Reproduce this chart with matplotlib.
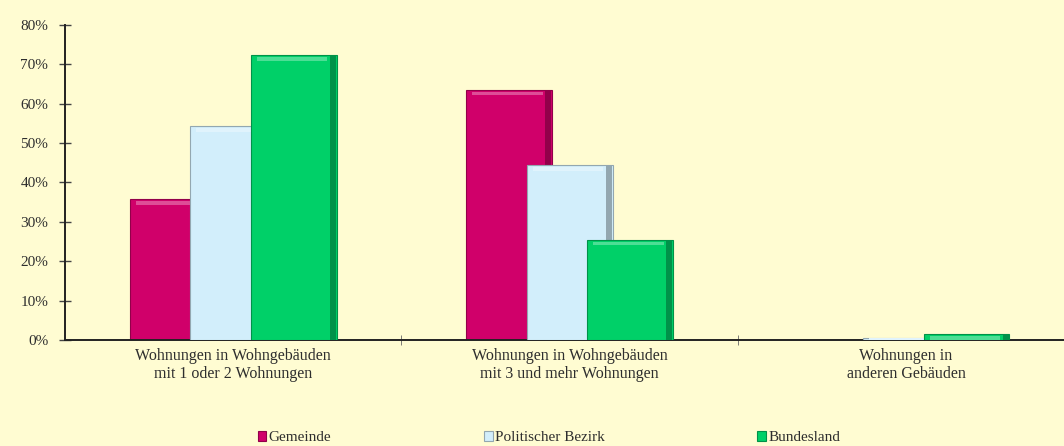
import numpy as np
import matplotlib.pyplot as plt
import matplotlib.colors as mcolors
from matplotlib.ticker import FuncFormatter

# Daten
kategorien = ["Wohnungen in Wohngebäuden\nmit 1 oder 2 Wohnungen",
              "Wohnungen in Wohngebäuden\nmit 3 und mehr Wohnungen",
              "Wohnungen in\nanderen Gebäuden"]
serien = ["Gemeinde", "Politischer Bezirk", "Bundesland"]
gemeinde = [35.8, 63.5, 0.0]
bezirk = [54.3, 44.4, 0.5]
bundesland = [72.3, 25.4, 1.5]

farben = ["#D0006A", "#D2EEFB", "#00D068"]
hintergrund = "#FFFCD2"
textfarbe = "#2E2E2E"

plt.rcParams['font.family'] = ['Liberation Serif', 'DejaVu Serif']

fig = plt.figure(figsize=(10.64, 4.46), dpi=100)
fig.patch.set_facecolor(hintergrund)
ax = fig.add_axes([0.0611, 0.2377, 0.9485, 0.7063])
ax.set_facecolor(hintergrund)

x = np.arange(len(kategorien))
breite = 0.255
abstand = 0.18

for i, (werte, name) in enumerate(zip([gemeinde, bezirk, bundesland], serien)):
    pos = x + (i - 1) * abstand
    farbe = farben[i]
    dunkel = tuple(c * 0.7 for c in mcolors.to_rgb(farbe))
    hell = tuple(c + (1 - c) * 0.3 for c in mcolors.to_rgb(farbe))
    ax.bar(pos, werte, width=breite, color=farbe, edgecolor=dunkel,
           linewidth=0.8, label=name, zorder=2 + i)
    # angedeuteter 3D-Rand: heller oben, dunkler rechts
    w = np.array(werte)
    ax.bar(pos - breite * 0.02, np.minimum(w, 0.9), bottom=np.maximum(w - 1.4, 0),
           width=breite * 0.82, color=hell, linewidth=0, zorder=2 + i)
    ax.bar(pos + breite * 0.455, w, width=breite * 0.07, color=dunkel,
           linewidth=0, zorder=2 + i)

ax.set_xlim(-0.5, 2.5)
ax.set_ylim(0, 80)
ax.set_yticks(np.arange(0, 81, 10))
ax.yaxis.set_major_formatter(FuncFormatter(lambda v, p: f"{v:.0f}%"))
ax.tick_params(axis='y', labelsize=11, length=8, width=1, direction='inout',
               pad=8, labelcolor=textfarbe, color='#444444')

ax.set_xticks(x)
ax.set_xticklabels(kategorien, fontsize=11.5, linespacing=1.15)
ax.tick_params(axis='x', length=0, pad=6, labelcolor=textfarbe)
ax.set_xticks([0.5, 1.5], minor=True)
ax.tick_params(axis='x', which='minor', length=7, direction='inout', color='#666666')

for s in ['top', 'right']:
    ax.spines[s].set_visible(False)
ax.spines['left'].set_linewidth(1.4)
ax.spines['bottom'].set_linewidth(1.4)
ax.spines['left'].set_color('#222222')
ax.spines['bottom'].set_color('#222222')

handles, labels = ax.get_legend_handles_labels()
leg = fig.legend(handles, labels, loc='center', bbox_to_anchor=(0.516, 0.018), ncol=3,
                 frameon=False, fontsize=11, handlelength=0.55, handleheight=0.55,
                 handletextpad=0.15, columnspacing=10.0, labelcolor=textfarbe)

fig.savefig("out.png", dpi=100, facecolor=hintergrund)
